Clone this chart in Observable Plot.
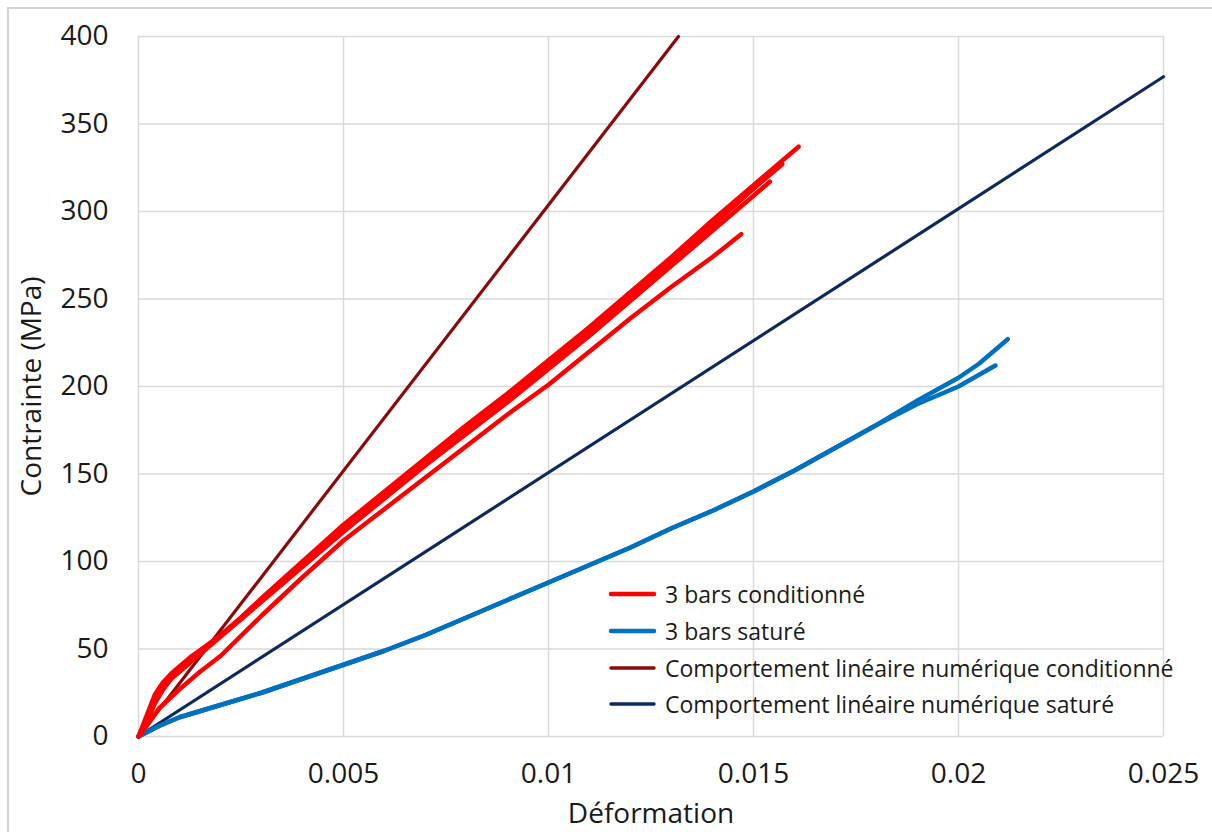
<!DOCTYPE html>
<html>
<head>
<meta charset="utf-8">
<script src="https://cdn.jsdelivr.net/npm/d3@7"></script>
<script src="https://cdn.jsdelivr.net/npm/@observablehq/plot@0.6"></script>
<style>
  html, body { margin: 0; padding: 0; background: #fff; }
  #wrap { position: relative; width: 1212px; height: 832px; overflow: hidden; }
  #border { position: absolute; left: 7px; top: 7px; width: 1220px; height: 850px; border: 2px solid #d4d4d4; box-sizing: border-box; pointer-events: none; }
  #legend { position: absolute; left: 606px; top: 576px; font-family: "Open Sans", sans-serif; font-size: 23px; color: #1a1a1a; }
  .row { display: flex; align-items: center; height: 36.7px; }
  .row svg { margin-right: 9px; }
</style>
</head>
<body>
<div id="wrap"><div id="border"></div><div id="chart"></div><div id="legend"></div></div>
<script>
// ---- data ----
const xTicks = [0, 0.005, 0.01, 0.015, 0.02, 0.025];
const yTicks = [0, 50, 100, 150, 200, 250, 300, 350, 400];

const seriesNames = ["3 bars conditionné", "3 bars saturé", "Comportement linéaire numérique conditionné", "Comportement linéaire numérique saturé"];
const seriesColors = ["#ff0000", "#0070c0", "#8b0a0a", "#0d2a60"];

// 3 bars conditionné — four test curves
const condX_A = [0,0.0002,0.0004,0.0006,0.0008,0.001,0.0013,0.0016,0.002,0.0025,0.003,0.004,0.005,0.006,0.007,0.008,0.009,0.01,0.011,0.012,0.013,0.014,0.015,0.0161];
const condY_A = [0,10,22,30,35,39,45,50,58,68,79,100,121,140,159,178,196,215,234,254,274,295,315,337];
const condX_B = [0,0.0002,0.0004,0.0006,0.0008,0.001,0.0013,0.0016,0.002,0.0025,0.003,0.004,0.005,0.006,0.007,0.008,0.009,0.01,0.011,0.012,0.013,0.014,0.015,0.0157];
const condY_B = [0,8,19,27,33,37,43,49,57,67,78,99,120,139,158,176,194,213,232,252,272,292,313,327];
const condX_C = [0,0.0002,0.0004,0.0006,0.0008,0.001,0.0013,0.0016,0.002,0.0025,0.003,0.004,0.005,0.006,0.007,0.008,0.009,0.01,0.011,0.012,0.013,0.014,0.015,0.0154];
const condY_C = [0,12,24,31,36,40,46,51,58,67,77,97,117,136,155,173,191,210,229,249,269,289,309,317];
const condX_D = [0,0.0002,0.0005,0.001,0.0015,0.002,0.003,0.004,0.005,0.006,0.007,0.008,0.009,0.01,0.011,0.012,0.013,0.014,0.0147];
const condY_D = [0,6,16,27,37,46,69,91,112,130,148,166,184,201,220,239,257,274,287];

// 3 bars saturé — two test curves
const satX_E = [0,0.0005,0.001,0.002,0.003,0.004,0.005,0.006,0.007,0.008,0.009,0.01,0.011,0.012,0.013,0.014,0.015,0.016,0.017,0.018,0.019,0.02,0.0205,0.0212];
const satY_E = [0,6,11,18,25,33,41,49,58,68,78,88,98,108,119,129,140,152,165,178,192,205,213,227];
const satX_F = [0,0.0005,0.001,0.002,0.003,0.004,0.005,0.006,0.007,0.008,0.009,0.01,0.011,0.012,0.013,0.014,0.015,0.016,0.017,0.018,0.019,0.02,0.0209];
const satY_F = [0,6,11,18,25,33,41,49,58,68,78,88,98,108,119,129,140,152,165,178,190,200,212];

// numerical linear behaviour
const linCondX = [0, 0.01317];
const linCondY = [0, 400];
const linSatX = [0, 0.025];
const linSatY = [0, 377];

// ---- build tables ----
const toRows = (xs, ys, id) => xs.map((x, i) => ({x, y: ys[i], id}));
const cond = [
  ...toRows(condX_D, condY_D, "D"),
  ...toRows(condX_C, condY_C, "C"),
  ...toRows(condX_B, condY_B, "B"),
  ...toRows(condX_A, condY_A, "A")
];
const sat = [...toRows(satX_F, satY_F, "F"), ...toRows(satX_E, satY_E, "E")];
const linCond = toRows(linCondX, linCondY, "lc");
const linSat = toRows(linSatX, linSatY, "ls");

const chart = Plot.plot({
  width: 1212,
  height: 832,
  marginLeft: 138,
  marginRight: 49,
  marginTop: 36,
  marginBottom: 96,
  style: {fontFamily: "'Open Sans', sans-serif", fontSize: "28px", color: "#1a1a1a", background: "transparent"},
  x: {domain: [0, 0.025]},
  y: {domain: [0, 400]},
  marks: [
    Plot.gridX(xTicks, {stroke: "#d9d9d9", strokeOpacity: 1, strokeWidth: 1.5}),
    Plot.gridY(yTicks, {stroke: "#d9d9d9", strokeOpacity: 1, strokeWidth: 1.5}),
    Plot.line(linCond, {x: "x", y: "y", stroke: seriesColors[2], strokeWidth: 3.2}),
    Plot.line(linSat, {x: "x", y: "y", stroke: seriesColors[3], strokeWidth: 3.2}),
    Plot.line(sat, {x: "x", y: "y", z: "id", stroke: seriesColors[1], strokeWidth: 4.5, strokeLinecap: "round", strokeLinejoin: "round"}),
    Plot.line(cond, {x: "x", y: "y", z: "id", stroke: seriesColors[0], strokeWidth: 4.5, strokeLinecap: "round", strokeLinejoin: "round"}),
    Plot.axisX(xTicks, {tickSize: 0, tickPadding: 27, tickFormat: d => String(d), fontSize: 28, label: "Déformation", labelArrow: "none", labelAnchor: "center", labelOffset: 86}),
    Plot.axisY(yTicks, {tickSize: 0, tickPadding: 30, tickFormat: d => String(d), fontSize: 28, label: "Contrainte (MPa)", labelArrow: "none", labelAnchor: "center", labelOffset: 117})
  ]
});
document.getElementById("chart").appendChild(chart);

// legend
const legend = document.getElementById("legend");
seriesNames.forEach((name, i) => {
  const row = document.createElement("div");
  row.className = "row";
  const w = i < 2 ? 4.5 : 3.5;
  row.innerHTML = `<svg width="50" height="10"><line x1="5" y1="5" x2="48" y2="5" stroke="${seriesColors[i]}" stroke-width="${w}" stroke-linecap="round"/></svg><span>${name}</span>`;
  legend.appendChild(row);
});
</script>
</body>
</html>
